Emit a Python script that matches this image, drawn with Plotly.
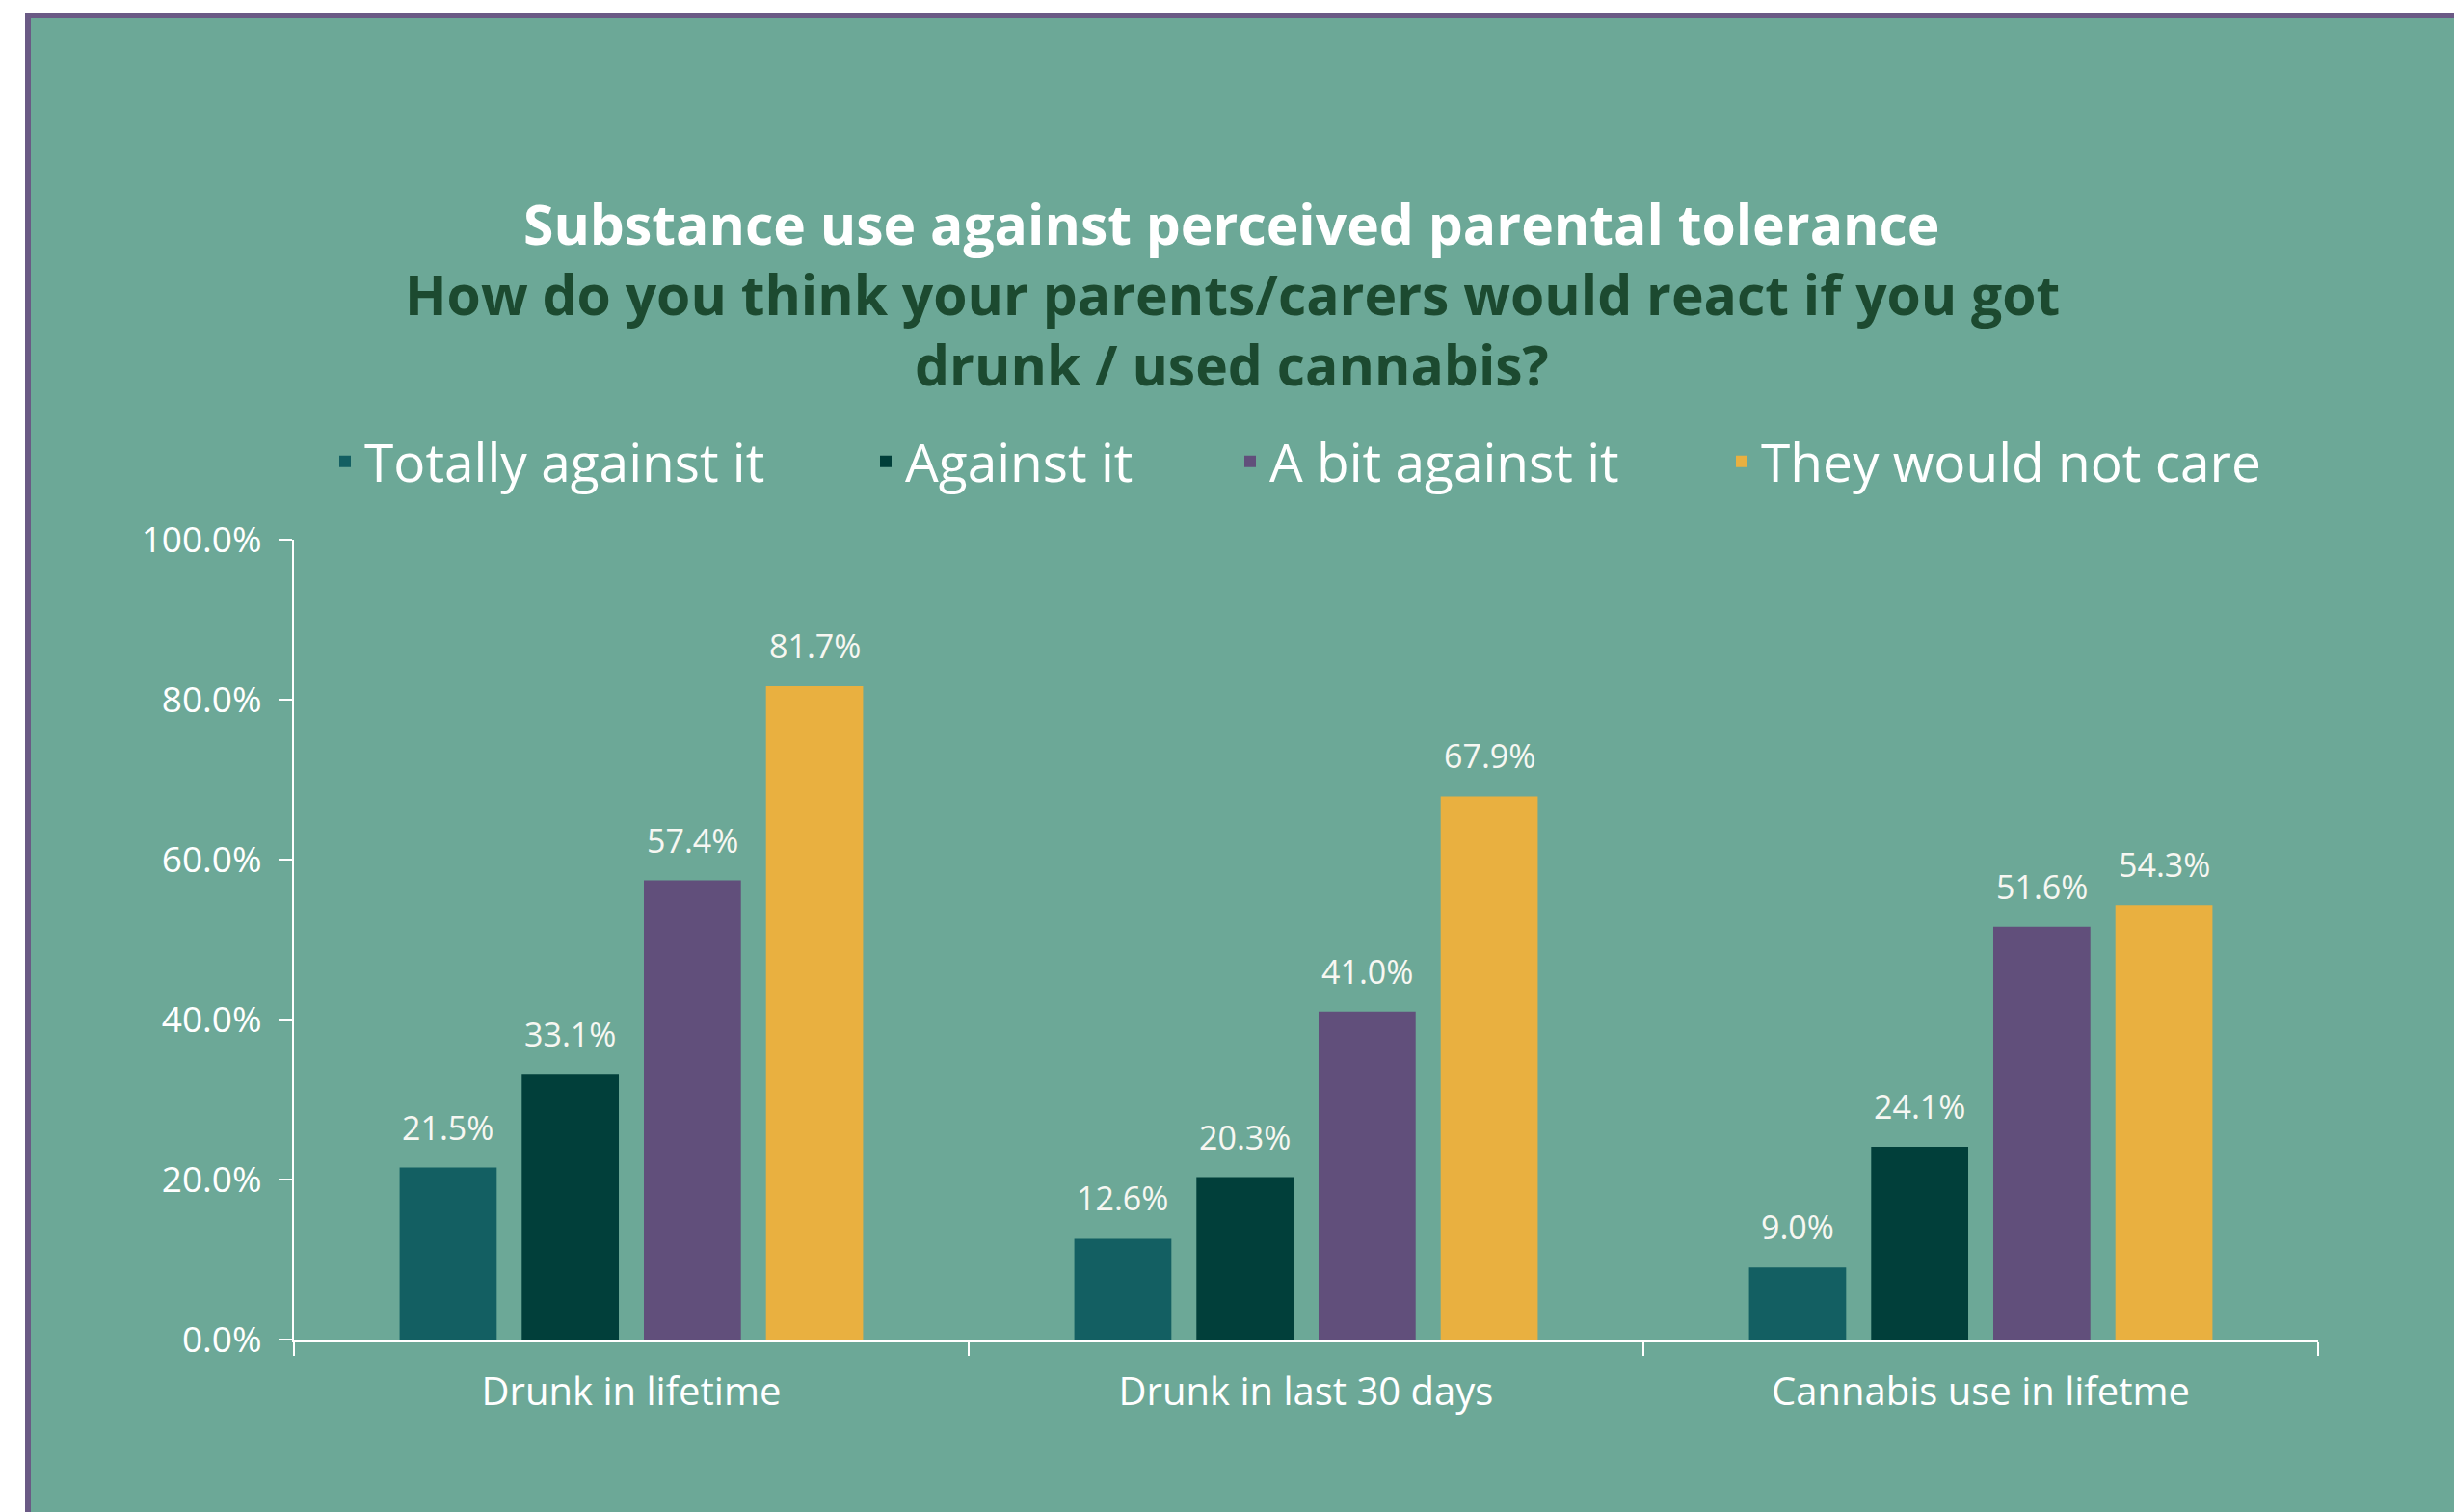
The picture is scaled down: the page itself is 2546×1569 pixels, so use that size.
import plotly.graph_objects as go

# Survey categories and responses (% of respondents)
categories = ["Drunk in lifetime", "Drunk in last 30 days", "Cannabis use in lifetme"]
series_names = ["Totally against it", "Against it", "A bit against it", "They would not care"]
totally_against = [21.5, 12.6, 9.0]
against = [33.1, 20.3, 24.1]
bit_against = [57.4, 41.0, 51.6]
not_care = [81.7, 67.9, 54.3]
series_values = [totally_against, against, bit_against, not_care]
series_colors = ["#135f62", "#013f3a", "#614f7b", "#e9b040"]

W, H = 2546, 1569
ML, MR, MT, MB = 305, 141, 560, 179
PW, PH = W - ML - MR, H - MT - MB
BG = "#6ca897"
FONT = "Open Sans"
BARGAP, BARGROUPGAP = 0.276, 0.205


def px_x(p):
    return (p - ML) / PW


def px_y(p):
    return (H - MB - p) / PH


fig = go.Figure()
legend_text_starts = [378, 939, 1317, 1827]
for i, (name, vals, col) in enumerate(zip(series_names, series_values, series_colors)):
    lg = "legend" if i == 0 else f"legend{i + 1}"
    fig.add_trace(go.Bar(
        x=categories, y=vals, name=name, marker=dict(color=col, line=dict(width=0)),
        legend=lg, showlegend=True, hoverinfo="skip",
    ))

# value labels above each bar, placed at the bar's centre within its group
n = len(series_names)
slot = (1 - BARGAP) / n
annotations = []
for i, vals in enumerate(series_values):
    for j, v in enumerate(vals):
        annotations.append(dict(
            x=j + (i - (n - 1) / 2) * slot, y=v, xref="x", yref="y",
            text=f"{v:.1f}%", showarrow=False, yanchor="bottom", yshift=17,
            font=dict(family=FONT, size=34, color="#f7f7f2"),
        ))

# chart title block
title_lines = [
    ("<b>Substance use against perceived parental tolerance</b>", "#ffffff", 232),
    ("<b>How do you think your parents/carers would react if you got</b>", "#1c4a30", 305),
    ("<b>drunk / used cannabis?</b>", "#1c4a30", 378),
]
for txt, col, yp in title_lines:
    annotations.append(dict(
        x=px_x(1278), y=px_y(yp), xref="paper", yref="paper", text=txt,
        showarrow=False, xanchor="center", yanchor="middle",
        font=dict(family=FONT, size=57, color=col),
    ))

layout_legends = {}
for i, ts in enumerate(legend_text_starts):
    key = "legend" if i == 0 else f"legend{i + 1}"
    layout_legends[key] = dict(
        x=px_x(ts - 40), y=px_y(479), xanchor="left", yanchor="middle",
        orientation="h", bgcolor="rgba(0,0,0,0)",
        font=dict(family=FONT, size=55, color="#ffffff"),
    )

fig.update_layout(
    width=W, height=H,
    showlegend=True,
    margin=dict(l=ML, r=MR, t=MT, b=MB, autoexpand=False),
    paper_bgcolor="#ffffff", plot_bgcolor="rgba(0,0,0,0)",
    barmode="group", bargap=BARGAP, bargroupgap=BARGROUPGAP,
    annotations=annotations,
    shapes=[dict(
        type="rect", xref="paper", yref="paper", layer="below",
        x0=px_x(29), x1=px_x(W + 20), y0=px_y(16), y1=px_y(H + 20),
        fillcolor=BG, line=dict(color="#6a5a85", width=6),
    )],
    xaxis=dict(
        showline=True, linecolor="#ffffff", linewidth=3,
        ticks="outside", tickson="boundaries", ticklen=14, tickcolor="#ffffff", tickwidth=2,
        tickfont=dict(family=FONT, size=40, color="#ffffff"), ticklabelstandoff=17,
        showgrid=False, zeroline=False,
    ),
    yaxis=dict(
        range=[0, 100], tickmode="linear", tick0=0, dtick=20,
        tickformat=".1f", ticksuffix="%",
        showline=True, linecolor="#ffffff", linewidth=2,
        ticks="outside", ticklen=14, tickcolor="#ffffff", tickwidth=2,
        tickfont=dict(family=FONT, size=37, color="#ffffff"), ticklabelstandoff=10,
        showgrid=False, zeroline=False,
    ),
    **layout_legends,
)

fig.write_html("out.html")
